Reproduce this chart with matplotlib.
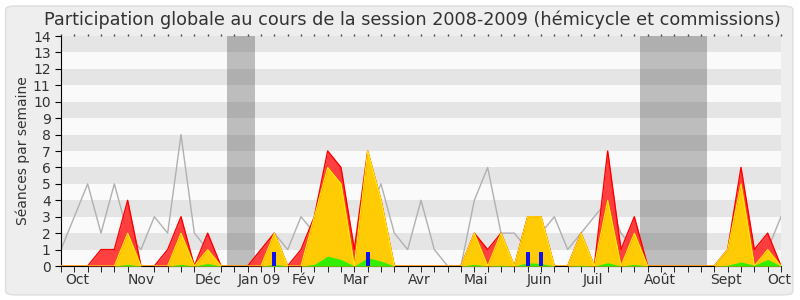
import matplotlib
matplotlib.use("Agg")
import matplotlib.pyplot as plt
from matplotlib.patches import FancyBboxPatch
import numpy as np

# weekly values, session 2008-2009 (55 weeks)
presence = [0, 0, 0, 1, 1, 4, 0, 0, 1, 3, 0, 2, 0, 0, 0, 1, 2, 0, 1, 3,
            7, 6, 1, 7, 4, 0, 0, 0, 0, 0, 0, 2, 1, 2, 0, 3, 3, 0, 0, 2,
            0, 7, 1, 3, 0, 0, 0, 0, 0, 0, 1, 6, 1, 2, 0]
participation = [0, 0, 0, 0, 0, 2, 0, 0, 0, 2, 0, 1, 0, 0, 0, 0, 2, 0, 0, 3,
                 6, 5, 0, 7, 4, 0, 0, 0, 0, 0, 0, 2, 0, 2, 0, 3, 3, 0, 0, 2,
                 0, 4, 0, 2, 0, 0, 0, 0, 0, 0, 1, 5, 0, 1, 0]
mots = [0, 0, 0, 0, 0, 0.1, 0, 0, 0, 0.1, 0, 0.15, 0, 0, 0, 0, 0.1, 0, 0, 0.1,
        0.6, 0.4, 0, 0.5, 0.3, 0, 0, 0, 0, 0, 0, 0.1, 0, 0.05, 0, 0.2, 0.15, 0, 0, 0.05,
        0, 0.2, 0, 0.1, 0, 0, 0, 0, 0, 0, 0.05, 0.25, 0.05, 0.4, 0]
mediane = [1, 3, 5, 2, 5, 2, 1, 3, 2, 8, 2, 1, 0, 0, 0, 1, 2, 1, 3, 2,
           4, 2, 0, 3, 5, 2, 1, 4, 1, 0, 0, 4, 6, 2, 2, 1, 2, 3, 1, 2,
           3, 4, 2, 1, 0, 0, 0, 0, 0, 0, 1, 4, 1, 1, 3]
questions_semaines = [16, 23, 35, 36]
questions = [0.85, 0.85, 0.85, 0.85]
vacances = [(12.45, 14.55), (43.43, 48.43)]
mois = ["Oct", "Nov", "Déc", "Jan 09", "Fév", "Mar", "Avr", "Mai", "Juin",
        "Juil", "Août", "Sept", "Oct"]
mois_pos = [1.2, 6, 11, 14.9, 18.2, 22.1, 26.9, 31.1, 35.9, 39.9, 44.9, 49.9, 53.9]

semaines = np.arange(len(presence))
txt = "#333333"

fig = plt.figure(figsize=(8, 3), dpi=100, facecolor="white")
fig.patches.append(FancyBboxPatch((0.007, 0.017), 0.984, 0.963,
                                  boxstyle="round,pad=0,rounding_size=0.012",
                                  transform=fig.transFigure, facecolor="#eeeeee",
                                  edgecolor="#dddddd", lw=1, zorder=-10))
ax = fig.add_axes([0.07625, 0.1133, 0.9, 0.7667])
ax.set_xlim(0, len(presence) - 1)
ax.set_ylim(0, 14)
ax.set_facecolor("#fafafa")

# alternating horizontal bands
for y in range(1, 14, 2):
    ax.axhspan(y, y + 1, color="#e5e5e5", lw=0, zorder=0)
for a, b in vacances:
    ax.axvspan(a, b, color="#323232", alpha=0.3, lw=0, zorder=1)

ax.plot(semaines, mediane, color="#b0b0b0", lw=1, zorder=2)
ax.fill_between(semaines, presence, color="#ff3030", alpha=0.92, lw=0, zorder=3)
ax.plot(semaines, presence, color="#ff0000", lw=1, zorder=3)
ax.fill_between(semaines, participation, color="#ffd700", alpha=0.93, lw=0, zorder=4)
ax.plot(semaines, participation, color="#ffee00", lw=0.8, zorder=4)
ax.fill_between(semaines, mots, color="#33ee00", lw=0, zorder=5)
ax.bar(questions_semaines, questions, width=0.3, color="#1010ee", zorder=6)

for s in ["top", "right"]:
    ax.spines[s].set_visible(False)
ax.spines["left"].set_color("#000000")
ax.spines["bottom"].set_color("#000000")

ax.set_yticks(range(0, 15))
ax.tick_params(axis="y", direction="out", length=4, labelsize=10, colors=txt)
ax.tick_params(axis="y", color="black")
ax.set_xticks(semaines, minor=True)
ax.set_xticks(mois_pos)
ax.set_xticklabels(mois)
ax.tick_params(axis="x", which="major", length=0, labelsize=10, colors=txt, pad=5)
ax.tick_params(axis="x", which="minor", length=4, color="black")

top = ax.secondary_xaxis("top")
top.set_xticks(semaines)
top.set_xticklabels([])
top.tick_params(length=1.5, width=1, color="#444444")
top.spines["top"].set_visible(False)

ax.set_ylabel("Séances par semaine", fontsize=10, color=txt, labelpad=2)
fig.suptitle("Participation globale au cours de la session 2008-2009 (hémicycle et commissions)",
             fontsize=12.7, color=txt, x=0.516, y=0.965)

fig.savefig("out.png", dpi=100, facecolor=fig.get_facecolor())
